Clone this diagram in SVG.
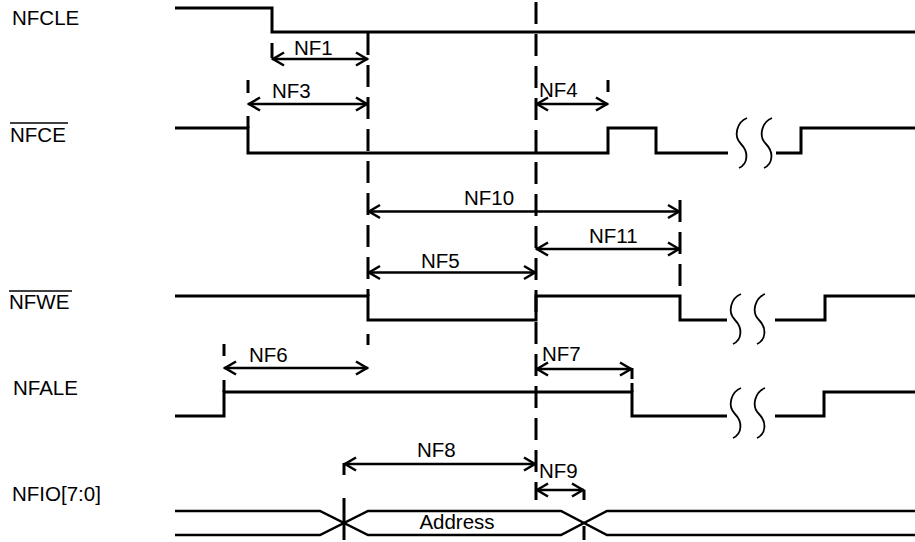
<svg xmlns="http://www.w3.org/2000/svg" width="915" height="542" viewBox="0 0 915 542">
<style>
.wave{fill:none;stroke:#000;stroke-width:3;stroke-linejoin:miter;stroke-linecap:butt}
.bus{fill:none;stroke:#000;stroke-width:2.5}
.dash{stroke:#000;stroke-width:3;stroke-dasharray:22 10;fill:none}
.tick{stroke:#000;stroke-width:3;fill:none}
.arr{stroke:#000;stroke-width:2.5;fill:none;marker-start:url(#ah);marker-end:url(#ah)}
.sq{fill:none;stroke:#000;stroke-width:1.8}
text{font-family:"Liberation Sans",Arial,sans-serif;font-size:20.5px;fill:#000}
.ov{stroke:#000;stroke-width:1.6}
</style>
<defs>
<marker id="ah" markerUnits="userSpaceOnUse" markerWidth="20" markerHeight="20" viewBox="-15 -10 20 20" refX="0" refY="0" orient="auto-start-reverse">
<path d="M -12,-6.5 L -1,0 L -12,6.5" fill="none" stroke="#000" stroke-width="2.5"/>
</marker>
<path id="squig" d="M 12,0 C 2,4 -2,18 6,26 C 14,34 13,46 4,50" class="sq"/>
</defs>
<rect width="915" height="542" fill="#fff"/>

<g id="sig-nfcle">
<text x="12" y="25">NFCLE</text>
<path class="wave" d="M175,8 H272 V32 H915"/>
</g>

<g id="sig-nfce">
<text x="10" y="142">NFCE</text>
<line class="ov" x1="10" y1="123" x2="68" y2="123"/>
<path class="wave" d="M175,128 H248 V153 H608 V128 H656 V153 H728 M776,153 H801 V128 H915"/>
<use href="#squig" x="735" y="118"/>
<use href="#squig" x="760" y="118"/>
</g>

<g id="sig-nfwe">
<text x="9" y="309">NFWE</text>
<line class="ov" x1="9" y1="291" x2="72" y2="291"/>
<path class="wave" d="M175,296 H368 V320 H536 V296 H680 V320 H727 M775,320 H825 V296 H915"/>
<use href="#squig" x="729" y="294"/>
<use href="#squig" x="753" y="294"/>
</g>

<g id="sig-nfale">
<text x="13" y="395">NFALE</text>
<path class="wave" d="M175,416 H224 V392 H632 V416 H727 M775,416 H824 V392 H915"/>
<use href="#squig" x="729" y="388"/>
<use href="#squig" x="753" y="388"/>
</g>

<g id="sig-nfio">
<text x="12" y="501">NFIO[7:0]</text>
<path class="bus" d="M175,511 H320 L368,535 H561 L607,511 H915"/>
<path class="bus" d="M175,535 H320 L368,511 H561 L607,535 H915"/>
<text x="457" y="529" text-anchor="middle">Address</text>
</g>

<g id="connectors">
<line class="dash" x1="368" y1="33" x2="368" y2="296"/>
<line class="tick" x1="368" y1="334" x2="368" y2="345"/>
<line class="dash" x1="536" y1="2" x2="536" y2="500"/>
<line class="dash" x1="680" y1="200" x2="680" y2="296"/>
<line class="tick" x1="272" y1="43" x2="272" y2="58"/>
<line class="tick" x1="248" y1="80" x2="248" y2="93"/>
<line class="tick" x1="248" y1="116" x2="248" y2="128"/>
<line class="tick" x1="608" y1="80" x2="608" y2="92"/>
<line class="tick" x1="224" y1="344" x2="224" y2="356"/>
<line class="tick" x1="224" y1="380" x2="224" y2="392"/>
<line class="tick" x1="632" y1="368" x2="632" y2="379"/>
<line class="tick" x1="632" y1="383" x2="632" y2="392"/>
<line class="tick" x1="344" y1="463" x2="344" y2="475"/>
<line class="tick" x1="344" y1="498" x2="344" y2="540"/>
<line class="tick" x1="584" y1="490" x2="584" y2="500"/>
<line class="tick" x1="584" y1="526" x2="584" y2="540"/>

<line class="arr" x1="272" y1="59" x2="368" y2="59"/>
<text x="294" y="55">NF1</text>
<line class="arr" x1="248" y1="104" x2="368" y2="104"/>
<text x="272" y="98">NF3</text>
<line class="arr" x1="536" y1="104" x2="608" y2="104"/>
<text x="539" y="97">NF4</text>
<line class="arr" x1="368" y1="211.5" x2="680" y2="211.5"/>
<text x="464" y="205">NF10</text>
<line class="arr" x1="536" y1="249" x2="680" y2="249"/>
<text x="589" y="243">NF11</text>
<line class="arr" x1="368" y1="272.5" x2="536" y2="272.5"/>
<text x="421" y="268">NF5</text>
<line class="arr" x1="224" y1="368" x2="368" y2="368"/>
<text x="249" y="362">NF6</text>
<line class="arr" x1="536" y1="369" x2="632" y2="369"/>
<text x="542" y="361">NF7</text>
<line class="arr" x1="344" y1="464" x2="536" y2="464"/>
<text x="417" y="457">NF8</text>
<line class="arr" x1="536" y1="490" x2="584" y2="490"/>
<text x="539" y="478">NF9</text>
</g>
</svg>
